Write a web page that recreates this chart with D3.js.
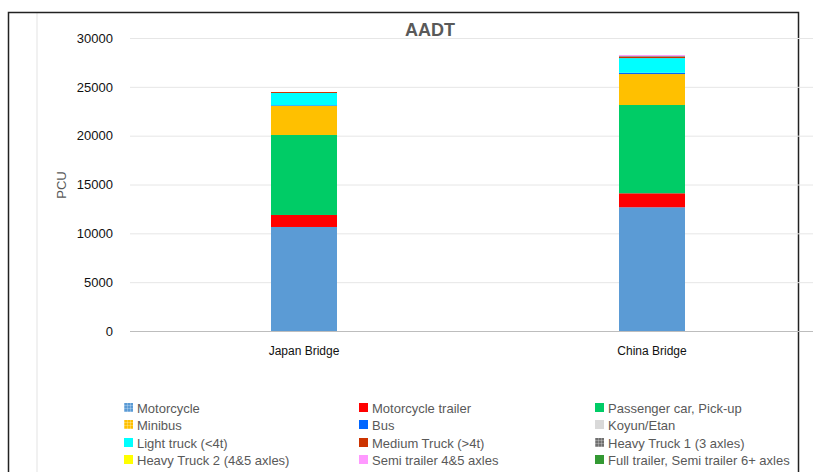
<!DOCTYPE html>
<html>
<head>
<meta charset="utf-8">
<script src="https://cdn.jsdelivr.net/npm/d3@7"></script>
<style>
  body { margin: 0; background: #fff; }
  text { font-family: "Liberation Sans", Arial, sans-serif; }
</style>
</head>
<body>
<svg id="vis"></svg>
<script>
const WIDTH = 813;
const HEIGHT = 472;

// datos
const bridges = ["Japan Bridge", "China Bridge"];
const seriesNames = [
    "Motorcycle", "Motorcycle trailer", "Passenger car, Pick-up",
    "Minibus", "Bus", "Koyun/Etan",
    "Light truck (<4t)", "Medium Truck (>4t)", "Heavy Truck 1 (3 axles)",
    "Heavy Truck 2 (4&5 axles)", "Semi trailer 4&5 axles", "Full trailer, Semi trailer 6+ axles"
];
const motorcycle = [10650, 12670];
const motorcycleTrailer = [1230, 1430];
const passengerCar = [8190, 9040];
const minibus = [2970, 3170];
const bus = [70, 130];
const koyun = [0, 0];
const lightTruck = [1260, 1500];
const mediumTruck = [100, 150];
const heavyTruck1 = [0, 70];
const heavyTruck2 = [0, 0];
const semiTrailer = [0, 100];
const fullTrailer = [0, 0];
const yTicks = [0, 5000, 10000, 15000, 20000, 25000, 30000];

const seriesValues = [motorcycle, motorcycleTrailer, passengerCar, minibus, bus, koyun,
    lightTruck, mediumTruck, heavyTruck1, heavyTruck2, semiTrailer, fullTrailer];
const colores = ["#5B9BD5", "#FF0000", "#00CC66", "#FFC000", "#0066FF", "#D9D9D9",
    "#00FFFF", "#CC3300", "#808080", "#FFFF00", "#FF99FF", "#339933"];

const svg = d3.select("#vis")
    .attr("width", WIDTH)
    .attr("height", HEIGHT);

// patrones de los cuadritos de la leyenda
const defs = svg.append("defs");
function patron(id, color) {
    const p = defs.append("pattern")
        .attr("id", id)
        .attr("width", 3)
        .attr("height", 3)
        .attr("patternUnits", "userSpaceOnUse");
    p.append("rect").attr("width", 3).attr("height", 3).attr("fill", color);
    p.append("path").attr("d", "M0,0.5H3M0.5,0V3")
        .attr("stroke", "#fff").attr("stroke-opacity", 0.25).attr("stroke-width", 1);
}
patron("pat0", colores[0]);
patron("pat3", colores[3]);
patron("pat8", "#707070");

// borde exterior y linea gris izquierda
svg.append("line")
    .attr("x1", 37).attr("x2", 37).attr("y1", 13).attr("y2", HEIGHT)
    .attr("stroke", "#e3e3e3").attr("stroke-width", 1);
svg.append("rect")
    .attr("x", 8.5).attr("y", 12.5)
    .attr("width", 790).attr("height", 480)
    .attr("fill", "none").attr("stroke", "#222").attr("stroke-width", 1.5);

const escalaY = d3.scaleLinear()
    .domain([0, 30000])
    .range([331, 38]);

const escalaX = d3.scaleBand()
    .domain(bridges)
    .range([130, 826])
    .paddingInner(0)
    .paddingOuter(0);

const barW = 66;

// grilla
svg.append("g")
    .selectAll("line")
    .data(yTicks.filter(t => t > 0))
    .join("line")
    .attr("x1", 130).attr("x2", WIDTH)
    .attr("y1", d => escalaY(d) + 0.5).attr("y2", d => escalaY(d) + 0.5)
    .attr("stroke", "#e6e6e6").attr("stroke-width", 1);

// eje Y (solo etiquetas)
const ejeY = d3.axisLeft(escalaY).tickValues(yTicks).tickFormat(d3.format("d"))
    .tickSize(0).tickPadding(0);
const gY = svg.append("g")
    .attr("transform", "translate(113,0)")
    .call(ejeY);
gY.select(".domain").remove();
gY.selectAll("text")
    .attr("font-size", 13)
    .attr("fill", "#111")
    .attr("font-family", "Liberation Sans, Arial, sans-serif");

// barras apiladas
const tabla = bridges.map((b, i) => {
    const fila = { bridge: b };
    seriesNames.forEach((s, j) => { fila[s] = seriesValues[j][i]; });
    return fila;
});
const stack = d3.stack().keys(seriesNames)(tabla);

svg.append("g")
    .selectAll("g")
    .data(stack)
    .join("g")
    .attr("fill", (d, i) => colores[i])
    .selectAll("rect")
    .data(d => d.filter(p => p[1] > p[0]))
    .join("rect")
    .attr("x", d => escalaX(d.data.bridge) + escalaX.bandwidth() / 2 - barW / 2)
    .attr("width", barW)
    .attr("y", d => escalaY(d[1]))
    .attr("height", d => escalaY(d[0]) - escalaY(d[1]));

// linea base
svg.append("line")
    .attr("x1", 130).attr("x2", WIDTH)
    .attr("y1", 331.5).attr("y2", 331.5)
    .attr("stroke", "#bdbdbd").attr("stroke-width", 1);

// etiquetas X
svg.append("g")
    .selectAll("text")
    .data(bridges)
    .join("text")
    .attr("x", d => escalaX(d) + escalaX.bandwidth() / 2)
    .attr("y", 355)
    .attr("text-anchor", "middle")
    .attr("font-size", 12)
    .attr("fill", "#111")
    .text(d => d);

// titulo
svg.append("text")
    .attr("x", 430)
    .attr("y", 36)
    .attr("text-anchor", "middle")
    .attr("font-size", 18)
    .attr("font-weight", "bold")
    .attr("fill", "#595959")
    .text("AADT");

// titulo eje Y
svg.append("text")
    .attr("transform", "translate(66,185) rotate(-90)")
    .attr("text-anchor", "middle")
    .attr("font-size", 13)
    .attr("fill", "#595959")
    .text("PCU");

// leyenda
const colX = [124, 359, 595];
const filaY = [408, 425, 443, 460];
const leyenda = svg.append("g")
    .selectAll("g")
    .data(seriesNames)
    .join("g")
    .attr("transform", (d, i) => `translate(${colX[i % 3]},${filaY[Math.floor(i / 3)]})`);
leyenda.append("rect")
    .attr("x", 0).attr("y", -5)
    .attr("width", 9).attr("height", 9)
    .attr("fill", (d, i) => (i === 0 || i === 3 || i === 8) ? `url(#pat${i})` : colores[i]);
leyenda.append("text")
    .attr("x", 13)
    .attr("y", 4.5)
    .attr("font-size", 13)
    .attr("fill", "#595959")
    .text(d => d);
</script>
</body>
</html>
